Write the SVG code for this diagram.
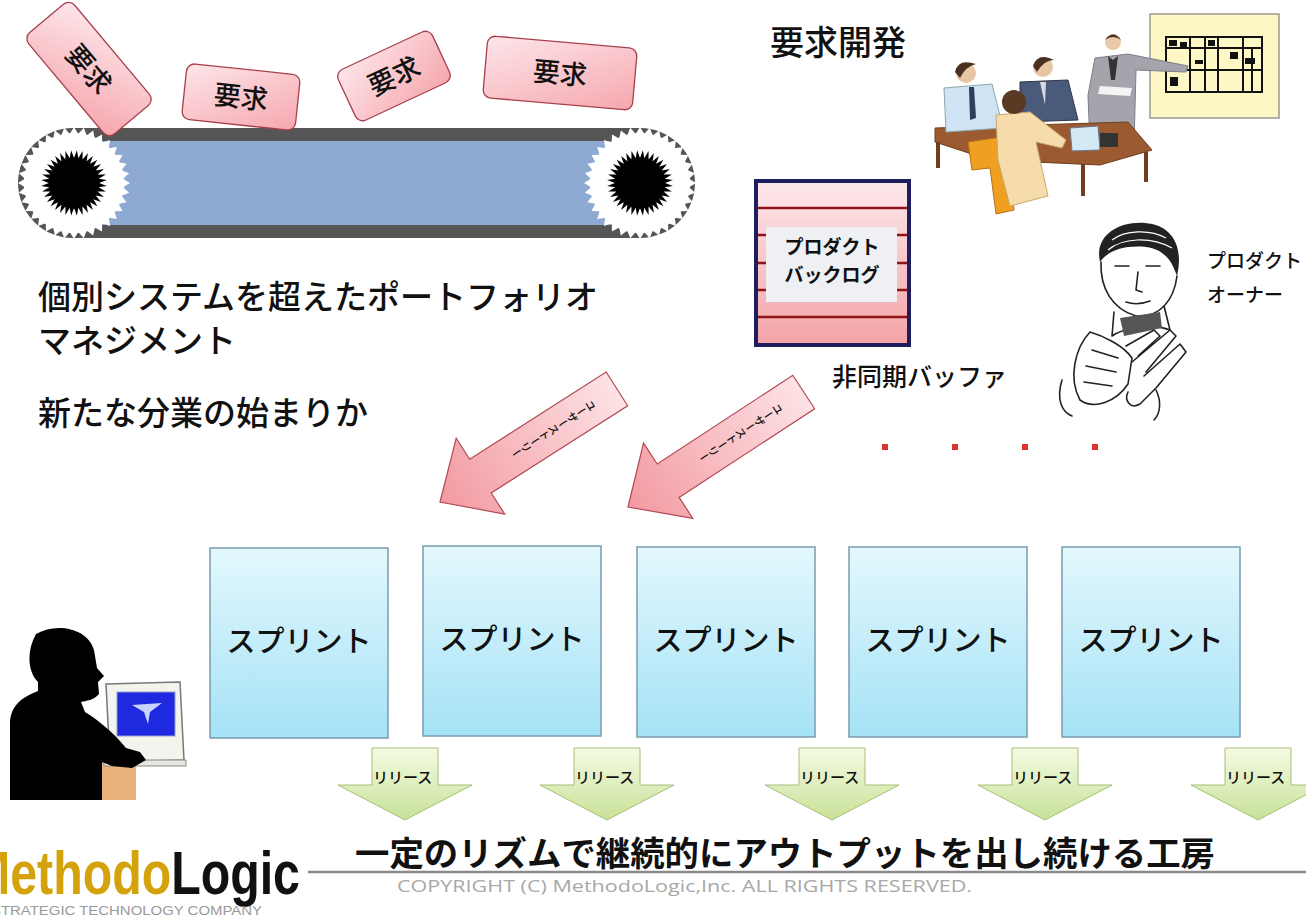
<svg xmlns="http://www.w3.org/2000/svg" xmlns:xlink="http://www.w3.org/1999/xlink" width="1306" height="918" viewBox="0 0 1306 918">
  <style>
    .jp { font-family: "Noto Sans CJK JP", "Noto Sans", sans-serif; fill: #111; font-weight: 500; }
    .card { fill: url(#pinkCard); stroke: #a8404c; stroke-width: 1.3; }
    .sprint { fill: url(#sprintFill); stroke: #7a9cad; stroke-width: 1.5; }
    .release { fill: url(#releaseFill); stroke: #a6bf78; stroke-width: 1; }
    .story { fill: url(#storyFill); stroke: #b24a56; stroke-width: 1.2; }
    .sketch { fill: none; stroke: #222; stroke-width: 1.6; stroke-linecap: round; stroke-linejoin: round; }
  </style>
  <defs>
    <linearGradient id="pinkCard" x1="0" y1="0" x2="1" y2="1">
      <stop offset="0" stop-color="#fde6ea"/>
      <stop offset="1" stop-color="#f5a7ae"/>
    </linearGradient>
    <linearGradient id="sprintFill" x1="0" y1="0" x2="0" y2="1">
      <stop offset="0" stop-color="#e3f8fd"/>
      <stop offset="1" stop-color="#a5e2f6"/>
    </linearGradient>
    <linearGradient id="releaseFill" x1="0" y1="0" x2="0" y2="1">
      <stop offset="0" stop-color="#f5fbe3"/>
      <stop offset="1" stop-color="#c8e298"/>
    </linearGradient>
    <linearGradient id="storyFill" x1="1" y1="0" x2="0" y2="0">
      <stop offset="0" stop-color="#fde2e5"/>
      <stop offset="1" stop-color="#f29aa1"/>
    </linearGradient>
    <linearGradient id="backlogFill" x1="0" y1="0" x2="0" y2="1">
      <stop offset="0" stop-color="#fde8ec"/>
      <stop offset="1" stop-color="#f3a3a6"/>
    </linearGradient>

    <!-- gear teeth built from one spike rotated in 10 degree steps -->
    <polygon id="wSpike" points="49,-4.3 56,0 49,4.3" fill="#fff"/>
    <g id="wSpikes6">
      <use xlink:href="#wSpike"/>
      <use xlink:href="#wSpike" transform="rotate(10)"/>
      <use xlink:href="#wSpike" transform="rotate(20)"/>
      <use xlink:href="#wSpike" transform="rotate(30)"/>
      <use xlink:href="#wSpike" transform="rotate(40)"/>
      <use xlink:href="#wSpike" transform="rotate(50)"/>
    </g>
    <polygon id="wInner" points="38,-3.3 48,0 38,3.3" fill="#fff"/>
    <g id="wInner6">
      <use xlink:href="#wInner"/>
      <use xlink:href="#wInner" transform="rotate(10)"/>
      <use xlink:href="#wInner" transform="rotate(20)"/>
      <use xlink:href="#wInner" transform="rotate(30)"/>
      <use xlink:href="#wInner" transform="rotate(40)"/>
      <use xlink:href="#wInner" transform="rotate(50)"/>
    </g>
    <polygon id="bSpike" points="25,-2.2 33,0 25,2.2" fill="#000"/>
    <g id="bSpikes6">
      <use xlink:href="#bSpike"/>
      <use xlink:href="#bSpike" transform="rotate(10)"/>
      <use xlink:href="#bSpike" transform="rotate(20)"/>
      <use xlink:href="#bSpike" transform="rotate(30)"/>
      <use xlink:href="#bSpike" transform="rotate(40)"/>
      <use xlink:href="#bSpike" transform="rotate(50)"/>
    </g>
    <!-- one pulley: grey rim teeth, white cog ring, black hub -->
    <g id="gear">
      <circle r="50" fill="#fff"/>
      <use xlink:href="#wSpikes6"/>
      <use xlink:href="#wSpikes6" transform="rotate(60)"/>
      <use xlink:href="#wSpikes6" transform="rotate(120)"/>
      <use xlink:href="#wSpikes6" transform="rotate(180)"/>
      <use xlink:href="#wSpikes6" transform="rotate(240)"/>
      <use xlink:href="#wSpikes6" transform="rotate(300)"/>
      <circle r="25.5" fill="#000"/>
      <use xlink:href="#bSpikes6" transform="rotate(5)"/>
      <use xlink:href="#bSpikes6" transform="rotate(65)"/>
      <use xlink:href="#bSpikes6" transform="rotate(125)"/>
      <use xlink:href="#bSpikes6" transform="rotate(185)"/>
      <use xlink:href="#bSpikes6" transform="rotate(245)"/>
      <use xlink:href="#bSpikes6" transform="rotate(305)"/>
    </g>

    <!-- user story arrow, tip at origin, tail along +x -->
    <path id="storyArrow" d="M0,0 L48,-45 L48,-20 L210,-20 L210,20 L48,20 L48,45 Z"/>
    <!-- release arrow centred on x = 0 -->
    <path id="releaseArrow" d="M-33,748 H33 V785 H67 L0,820 L-67,785 H-33 Z"/>
  </defs>

  <rect width="1306" height="918" fill="#fff"/>

  <!-- conveyor belt -->
  <g id="conveyor">
    <path d="M73,128 H640 A55,55 0 0 1 640,238 H73 A55,55 0 0 1 73,128 Z" fill="#555"/>
    <rect x="75" y="141" width="565" height="84" fill="#8eaad2"/>
    <use xlink:href="#gear" transform="translate(74,183)"/>
    <use xlink:href="#gear" transform="translate(640,183)"/>
  </g>

  <!-- requirement cards -->
  <g id="req1" transform="translate(89,69) rotate(50)">
    <rect class="card" x="-66" y="-30" width="132" height="60" rx="8"/>
    <text class="jp" x="0" y="10" font-size="27" text-anchor="middle">要求</text>
  </g>
  <g id="req2" transform="translate(241,97) rotate(6)">
    <rect class="card" x="-57" y="-28" width="114" height="56" rx="8"/>
    <text class="jp" x="0" y="10" font-size="27" text-anchor="middle">要求</text>
  </g>
  <g id="req3" transform="translate(394,76) rotate(-25)">
    <rect class="card" x="-52" y="-28" width="104" height="56" rx="8"/>
    <text class="jp" x="0" y="10" font-size="27" text-anchor="middle">要求</text>
  </g>
  <g id="req4" transform="translate(560,73) rotate(5)">
    <rect class="card" x="-75" y="-31" width="150" height="62" rx="8"/>
    <text class="jp" x="0" y="10" font-size="27" text-anchor="middle">要求</text>
  </g>

  <!-- captions -->
  <g id="captions">
    <text class="jp" x="770" y="55" font-size="34">要求開発</text>
    <text class="jp" x="38" y="309" font-size="33">個別システムを超えたポートフォリオ</text>
    <text class="jp" x="38" y="353" font-size="33">マネジメント</text>
    <text class="jp" x="38" y="425" font-size="33">新たな分業の始まりか</text>
    <text class="jp" x="832" y="386" font-size="25">非同期バッファ</text>
    <text class="jp" x="1207" y="268" font-size="19">プロダクト</text>
    <text class="jp" x="1207" y="302" font-size="19">オーナー</text>
  </g>

  <!-- requirements development meeting -->
  <g id="meeting">
    <rect x="1150" y="14" width="129" height="104" fill="#fdf7c6" stroke="#9a9a90" stroke-width="1.5"/>
    <g fill="none" stroke="#111" stroke-width="2">
      <rect x="1166" y="37" width="96" height="55"/>
      <path d="M1166,48 H1262 M1166,70 H1262 M1190,37 V92 M1205,37 V92 M1218,37 V92 M1243,37 V92 M1252,48 V92"/>
    </g>
    <g fill="#111">
      <rect x="1169" y="40" width="8" height="6"/><rect x="1180" y="42" width="7" height="5"/>
      <rect x="1208" y="40" width="7" height="6"/><rect x="1230" y="52" width="8" height="7"/>
      <rect x="1245" y="58" width="10" height="6"/><rect x="1170" y="77" width="8" height="9"/>
      <rect x="1195" y="60" width="8" height="4"/>
    </g>
    <!-- presenter -->
    <path d="M1095,58 L1128,54 L1188,66 L1186,72 L1136,70 L1134,146 L1090,146 L1088,95 Z" fill="#a4a4ac" stroke="#7e7e88"/>
    <path d="M1108,56 L1113,60 L1118,56 L1115,80 L1111,80 Z" fill="#333"/>
    <circle cx="1113" cy="42" r="8" fill="#e9c9a8"/>
    <path d="M1105,40 Q1113,29 1121,40 Q1113,34 1105,40 Z" fill="#4a3020"/>
    <path d="M1100,86 L1132,88 L1130,96 L1098,94 Z" fill="#f4f4f4"/>
    <!-- table -->
    <path d="M935,128 L1128,122 L1152,150 L1100,165 L990,160 L935,142 Z" fill="#9c5a30" stroke="#6e3e1e"/>
    <path d="M938,142 V168 M1083,164 V196 M1146,152 V182" stroke="#6e3e1e" stroke-width="4"/>
    <!-- seated man, light shirt -->
    <path d="M944,88 L992,84 L1003,128 L946,132 Z" fill="#cfe3f5" stroke="#8aa"/>
    <path d="M969,87 L974,87 L976,118 L970,120 Z" fill="#2c3e5c"/>
    <circle cx="966" cy="73" r="10" fill="#e8c6a4"/>
    <path d="M955,72 Q958,58 976,64 Q966,66 960,78 Z" fill="#4a3020"/>
    <!-- seated man, dark suit -->
    <path d="M1020,82 L1068,80 L1078,120 L1020,122 Z" fill="#4a5a7a" stroke="#334"/>
    <path d="M1040,82 L1046,82 L1045,105 Z" fill="#d8d8e0"/>
    <circle cx="1043" cy="67" r="10" fill="#e8c6a4"/>
    <path d="M1033,66 Q1038,52 1054,60 Q1044,60 1037,72 Z" fill="#4a3020"/>
    <!-- laptop and projector -->
    <path d="M1070,128 L1098,126 L1100,150 L1072,151 Z" fill="#d4e8f5" stroke="#678"/>
    <rect x="1100" y="133" width="18" height="14" fill="#333"/>
    <!-- woman and orange chair -->
    <path d="M968,142 L1008,136 L1014,210 L996,214 L990,168 L972,170 Z" fill="#f0a020" stroke="#b87010"/>
    <path d="M996,115 L1030,112 L1066,140 L1062,148 L1036,142 L1048,196 L1010,206 L998,160 Z" fill="#f5dcaa" stroke="#c9a870"/>
    <circle cx="1014" cy="102" r="12" fill="#5a3a22"/>
  </g>

  <!-- product backlog -->
  <g id="backlog">
    <rect x="756" y="181" width="153" height="164" fill="url(#backlogFill)" stroke="#1e1e5e" stroke-width="4"/>
    <rect x="766" y="227" width="131" height="75" fill="#eef0f4"/>
    <g stroke="#8e1418" stroke-width="2.5">
      <path d="M758,208 H907 M758,317 H907"/>
      <path d="M758,235 H766 M897,235 H907 M758,263 H766 M897,263 H907 M758,290 H766 M897,290 H907"/>
    </g>
    <text class="jp" x="832" y="254" font-size="19" font-weight="bold" style="font-weight:bold" text-anchor="middle">プロダクト</text>
    <text class="jp" x="832" y="282" font-size="19" font-weight="bold" style="font-weight:bold" text-anchor="middle">バックログ</text>
  </g>

  <!-- product owner -->
  <g id="owner">
    <path d="M1100,262 C1094,236 1118,221 1145,223 C1172,225 1184,246 1177,276 C1172,262 1166,250 1146,247 C1126,245 1108,250 1100,262 Z" fill="#222"/>
    <path d="M1112,240 C1125,230 1150,229 1166,238 M1108,250 C1122,238 1150,236 1172,248" fill="none" stroke="#fff" stroke-width="1.2"/>
    <path class="sketch" d="M1101,262 C1100,288 1112,309 1136,316 C1160,318 1174,300 1177,276"/>
    <path class="sketch" d="M1115,266 L1129,266 M1146,266 L1160,266 M1138,272 L1136,290 L1142,292 M1126,302 Q1137,306 1150,301"/>
    <path class="sketch" d="M1114,312 L1112,336 M1164,306 L1170,330 M1112,336 C1120,330 1150,322 1170,330"/>
    <path d="M1120,318 L1160,312 L1162,328 L1124,336 Z" fill="#555"/>
    <path class="sketch" d="M1090,332 C1075,348 1068,378 1080,400 C1094,410 1116,402 1128,384 L1132,358 C1124,346 1104,336 1090,332 Z"/>
    <path class="sketch" d="M1092,350 L1118,358 M1086,366 L1116,372 M1084,382 L1112,386"/>
    <path class="sketch" d="M1126,346 L1154,330 L1160,336 L1138,356 M1132,362 L1170,330 L1176,336 L1146,372 M1144,376 L1180,344 L1186,352 L1156,388 L1140,404 C1130,410 1124,400 1128,392"/>
    <path class="sketch" d="M1062,380 C1056,400 1062,412 1072,416 M1156,390 C1162,402 1160,414 1154,420"/>
  </g>

  <!-- continuation dots -->
  <g id="dots" fill="#e03030">
    <rect x="882" y="444" width="6" height="6"/>
    <rect x="952" y="444" width="6" height="6"/>
    <rect x="1022" y="444" width="6" height="6"/>
    <rect x="1092" y="444" width="6" height="6"/>
  </g>

  <!-- user story flow arrows -->
  <g id="connectors">
    <g id="story1" transform="translate(440,502) rotate(-32.6)">
      <use xlink:href="#storyArrow" class="story"/>
      <text class="jp" transform="translate(135,0) rotate(90)" font-size="11" text-anchor="middle" style="writing-mode: vertical-rl">ユーザーストーリー</text>
    </g>
    <g id="story2" transform="translate(628,507) rotate(-33.2)">
      <use xlink:href="#storyArrow" class="story"/>
      <text class="jp" transform="translate(135,0) rotate(90)" font-size="11" text-anchor="middle" style="writing-mode: vertical-rl">ユーザーストーリー</text>
    </g>
  </g>

  <!-- sprints -->
  <g id="sprint1"><rect class="sprint" x="210" y="548" width="178" height="190"/><text class="jp" x="299" y="652" font-size="29" text-anchor="middle">スプリント</text></g>
  <g id="sprint2"><rect class="sprint" x="423" y="546" width="178" height="190"/><text class="jp" x="512" y="650" font-size="29" text-anchor="middle">スプリント</text></g>
  <g id="sprint3"><rect class="sprint" x="637" y="547" width="178" height="190"/><text class="jp" x="726" y="651" font-size="29" text-anchor="middle">スプリント</text></g>
  <g id="sprint4"><rect class="sprint" x="849" y="547" width="178" height="190"/><text class="jp" x="938" y="651" font-size="29" text-anchor="middle">スプリント</text></g>
  <g id="sprint5"><rect class="sprint" x="1062" y="547" width="178" height="190"/><text class="jp" x="1151" y="651" font-size="29" text-anchor="middle">スプリント</text></g>

  <!-- releases -->
  <g id="release1"><use xlink:href="#releaseArrow" class="release" x="405"/><text class="jp" x="373" y="783" font-size="15">リリース</text></g>
  <g id="release2"><use xlink:href="#releaseArrow" class="release" x="607"/><text class="jp" x="575" y="783" font-size="15">リリース</text></g>
  <g id="release3"><use xlink:href="#releaseArrow" class="release" x="832"/><text class="jp" x="800" y="783" font-size="15">リリース</text></g>
  <g id="release4"><use xlink:href="#releaseArrow" class="release" x="1045"/><text class="jp" x="1013" y="783" font-size="15">リリース</text></g>
  <g id="release5"><use xlink:href="#releaseArrow" class="release" x="1258"/><text class="jp" x="1226" y="783" font-size="15">リリース</text></g>

  <!-- developer at workstation -->
  <g id="developer">
    <rect x="100" y="760" width="36" height="40" fill="#e8b27a"/>
    <path d="M106,684 L180,682 L184,760 L110,762 Z" fill="#f4f4ee" stroke="#777" stroke-width="1.5"/>
    <rect x="117" y="692" width="58" height="44" fill="#1f2ae0" stroke="#9999cc"/>
    <path d="M132,705 L162,703 L150,712 L148,724 L144,712 Z" fill="#c8d4ff"/>
    <path d="M104,760 H186 V766 H104 Z" fill="#e6e6e0" stroke="#888"/>
    <path d="M36,634 C56,622 88,628 94,650 L97,668 L104,676 L98,682 L99,694 C94,700 86,701 81,702 L85,712 C102,722 118,738 126,748 L140,752 L146,760 L132,768 L112,766 L102,762 L102,800 L10,800 L10,724 C10,706 22,697 38,691 L38,682 C28,672 26,652 36,634 Z" fill="#000"/>
  </g>

  <!-- footer -->
  <g id="footer">
    <line x1="308" y1="872" x2="1306" y2="872" stroke="#8a8a8a" stroke-width="2.5"/>
    <text class="jp" x="355" y="866" font-size="34" style="font-weight:bold" textLength="860" lengthAdjust="spacingAndGlyphs">一定のリズムで継続的にアウトプットを出し続ける工房</text>
    <text x="397" y="892" font-family="Open Sans, Liberation Sans, sans-serif" font-size="16" fill="#a8a8a8" textLength="575" lengthAdjust="spacingAndGlyphs">COPYRIGHT (C) MethodoLogic,Inc. ALL RIGHTS RESERVED.</text>
    <text x="-30" y="894" font-family="Liberation Sans Narrow, Liberation Sans, sans-serif" font-size="62" font-weight="bold" textLength="330" lengthAdjust="spacingAndGlyphs"><tspan fill="#d4a30c">Methodo</tspan><tspan fill="#111">Logic</tspan></text>
    <text x="-9" y="915" font-family="Liberation Sans, sans-serif" font-size="12" fill="#999" textLength="271" lengthAdjust="spacingAndGlyphs">STRATEGIC TECHNOLOGY COMPANY</text>
  </g>
</svg>
